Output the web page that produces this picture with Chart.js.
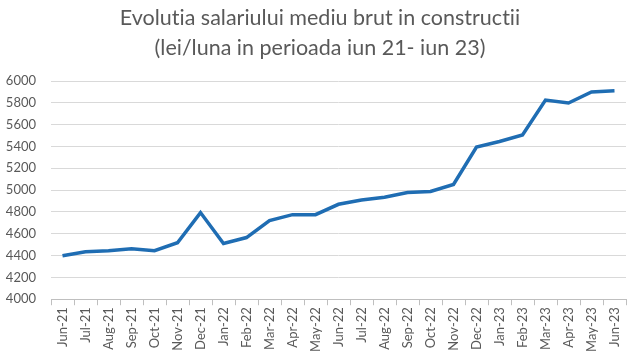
<!DOCTYPE html>
<html><head><meta charset="utf-8">
<script src="https://cdn.jsdelivr.net/npm/chart.js@4"></script>
<style>html,body{margin:0;padding:0;background:#fff}#c{display:block}</style>
</head><body>
<div style="width:640px;height:356px"><canvas id="c" width="640" height="356"></canvas></div>
<script>
const months = ["Jun-21","Jul-21","Aug-21","Sep-21","Oct-21","Nov-21","Dec-21","Jan-22","Feb-22","Mar-22","Apr-22","May-22","Jun-22","Jul-22","Aug-22","Sep-22","Oct-22","Nov-22","Dec-22","Jan-23","Feb-23","Mar-23","Apr-23","May-23","Jun-23"];
const salary = [4398,4435,4444,4462,4444,4518,4794,4510,4565,4720,4775,4775,4870,4910,4935,4978,4988,5052,5395,5445,5505,5825,5798,5900,5910];
const titleLines = ["Evolutia salariului mediu brut in constructii","(lei/luna in perioada iun 21- iun 23)"];
const yMin = 4000, yMax = 6000, yStep = 200;

const titlePlugin = {
  id: 'offsetTitle',
  beforeDraw(chart) { chart.ctx.textRendering = 'optimizeSpeed'; },
  afterDraw(chart) {
    const ctx = chart.ctx;
    ctx.save();
    ctx.textRendering = 'optimizeSpeed';
    ctx.font = '21.5px Lato';
    ctx.fillStyle = '#595959';
    ctx.textAlign = 'center';
    ctx.textBaseline = 'alphabetic';
    ctx.fillText(titleLines[0], 320, 25);
    ctx.fillText(titleLines[1], 320, 55);
    ctx.restore();
  }
};

new Chart(document.getElementById('c'), {
  type: 'line',
  data: { labels: months, datasets: [{ data: salary, borderColor: '#1f6db3', borderWidth: 3.5, pointRadius: 0, tension: 0, fill: false }] },
  options: {
    responsive: false, animation: false,
    layout: { padding: { left: 0, right: 14, top: 81, bottom: 2 } },
    plugins: { legend: { display: false }, tooltip: { enabled: false }, title: { display: false } },
    scales: {
      x: {
        offset: true,
        grid: { offset: true, drawOnChartArea: false, drawTicks: true, tickLength: 6, color: '#bfbfbf' },
        border: { color: '#bfbfbf' },
        ticks: { color: '#595959', font: { family: 'Lato', size: 13 }, maxRotation: 90, minRotation: 90, autoSkip: false, padding: 2 }
      },
      y: {
        min: yMin, max: yMax,
        afterFit: s => { s.width = 51; },
        grid: { color: '#d9d9d9', drawTicks: false },
        border: { display: false },
        ticks: { stepSize: yStep, color: '#595959', font: { family: 'Lato', size: 13 }, padding: 15, callback: v => String(v) }
      }
    }
  },
  plugins: [titlePlugin]
});
</script>
</body></html>
